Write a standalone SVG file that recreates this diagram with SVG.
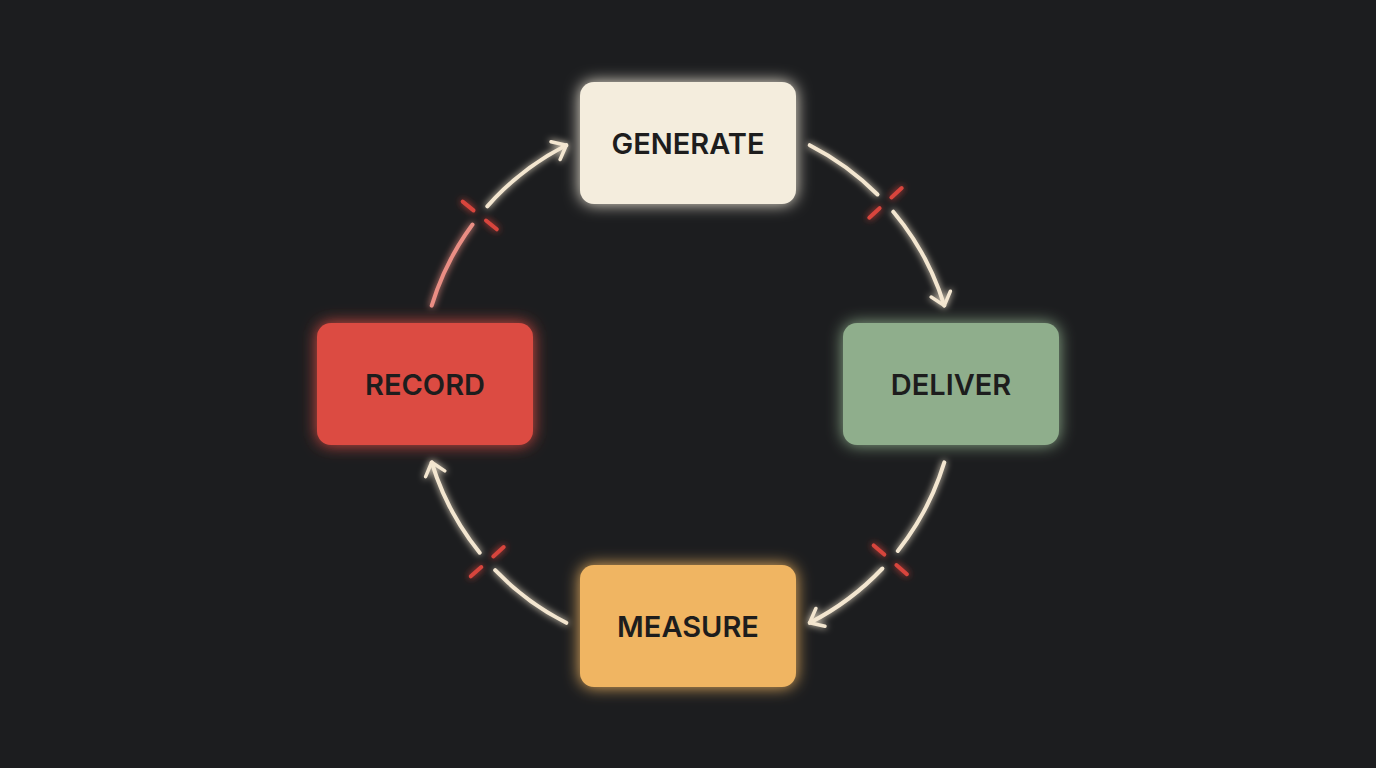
<svg xmlns="http://www.w3.org/2000/svg" width="1376" height="768" viewBox="0 0 1376 768">
<defs>
<filter id="glow" x="-30%" y="-30%" width="160%" height="160%"><feGaussianBlur in="SourceGraphic" stdDeviation="8" result="b"/><feMerge><feMergeNode in="b"/><feMergeNode in="SourceGraphic"/></feMerge></filter>
<filter id="lglow" x="-20%" y="-20%" width="140%" height="140%"><feGaussianBlur in="SourceGraphic" stdDeviation="3.5" result="b"/><feMerge><feMergeNode in="b"/><feMergeNode in="SourceGraphic"/></feMerge></filter>
<marker id="arr" viewBox="-14 -12 18 24" markerWidth="18" markerHeight="24" refX="0" refY="0" orient="auto" markerUnits="userSpaceOnUse"><path d="M-12,-10 L0,0 L-12,10" fill="none" stroke="#f3e6d0" stroke-width="3.5" stroke-linecap="round" stroke-linejoin="round"/></marker>
</defs>
<style>
.box{filter:url(#glow)}
.lbl{font-family:Inter,"Liberation Sans",sans-serif;font-size:29px;font-weight:600;fill:#1d1d1d;text-anchor:middle;dominant-baseline:central}
.arc{fill:none;stroke:#f3e6d0;stroke-width:4;stroke-linecap:round}
.tick{stroke:#d8453c;stroke-width:4;stroke-linecap:round}
</style>
<rect width="1376" height="768" fill="#1c1d1f"/>
<g id="connectors" filter="url(#lglow)">
<path class="arc" d="M809.7,145.2 A268,268 0 0 1 877.5,194.5"/>
<path class="arc" d="M893.3,211.7 A268,268 0 0 1 944.3,305.6" marker-end="url(#arr)"/>
<line class="tick" x1="869.3" y1="217.7" x2="879.6" y2="208.2"/><line class="tick" x1="891.4" y1="197.4" x2="901.7" y2="188.0"/>
<path class="arc" d="M944.3,462.4 A268,268 0 0 1 897.8,550.9"/>
<path class="arc" d="M882.4,568.5 A268,268 0 0 1 809.7,622.8" marker-end="url(#arr)"/>
<line class="tick" x1="873.7" y1="545.4" x2="884.3" y2="554.6"/><line class="tick" x1="896.4" y1="565.1" x2="906.9" y2="574.2"/>
<path class="arc" d="M566.3,622.8 A268,268 0 0 1 495.2,570.2"/>
<path class="arc" d="M479.7,552.7 A268,268 0 0 1 431.7,462.3" marker-end="url(#arr)"/>
<line class="tick" x1="503.7" y1="547.1" x2="493.3" y2="556.4"/><line class="tick" x1="481.3" y1="567.0" x2="470.8" y2="576.3"/>
<path class="arc" style="stroke:#ea8e84" d="M431.7,305.7 A268,268 0 0 1 472.5,224.5"/>
<path class="arc" d="M487.3,206.3 A268,268 0 0 1 566.3,145.2" marker-end="url(#arr)"/>
<line class="tick" x1="496.8" y1="229.3" x2="486.0" y2="220.5"/><line class="tick" x1="473.5" y1="210.4" x2="462.7" y2="201.6"/>
</g>
<g id="generate"><rect class="box" x="580" y="82" width="216" height="122" rx="14" fill="#f4eddd"/><text class="lbl" x="688" y="143">GENERATE</text></g>
<g id="deliver"><rect class="box" x="843" y="323" width="216" height="122" rx="14" fill="#8fae8c"/><text class="lbl" x="951" y="384">DELIVER</text></g>
<g id="measure"><rect class="box" x="580" y="565" width="216" height="122" rx="14" fill="#f0b562"/><text class="lbl" x="688" y="626">MEASURE</text></g>
<g id="record"><rect class="box" x="317" y="323" width="216" height="122" rx="14" fill="#dc4b42"/><text class="lbl" x="425" y="384">RECORD</text></g>
</svg>
